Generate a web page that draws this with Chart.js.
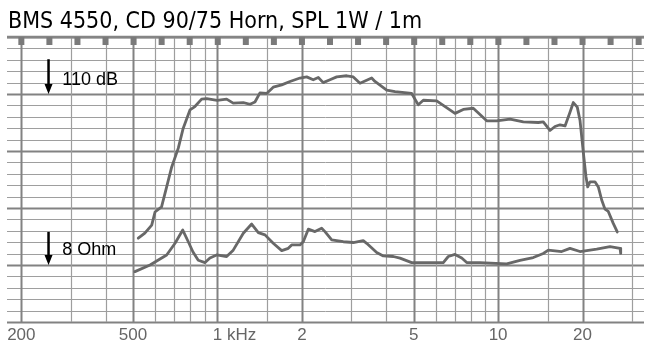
<!DOCTYPE html>
<html>
<head>
<meta charset="utf-8">
<script src="https://cdn.jsdelivr.net/npm/chart.js@4.4.1/dist/chart.umd.min.js"></script>
<style>
  html, body { margin: 0; padding: 0; background: #ffffff; }
  canvas { display: block; }
</style>
</head>
<body>
<canvas id="chart" width="652" height="347"></canvas>
<script>
const chartTitle = 'BMS 4550, CD 90/75 Horn, SPL 1W / 1m';

// SPL response (Hz, dB)
const splFreq = [522, 551, 583, 599, 632, 659, 687, 725, 755, 798, 831, 878, 915, 997, 1078, 1138, 1236, 1306, 1360, 1417, 1497, 1580, 1694, 1813, 1968, 2079, 2194, 2287, 2382, 2517, 2660, 2887, 3048, 3220, 3544, 3641, 4009, 4292, 4922, 5195, 5413, 6042, 7021, 7516, 8156, 9108, 9885, 11030, 12300, 13910, 14490, 15310, 15950, 16620, 17320, 18040, 18540, 19150, 19580, 20120, 20570, 20860, 21260, 22140, 22760, 23400, 24040, 24700, 25730, 26590];
const splDb = [84.7, 85.6, 87.0, 89.3, 90.2, 93.7, 97.2, 100.5, 104.0, 107.2, 107.8, 109.1, 109.2, 108.9, 109.1, 108.4, 108.5, 108.2, 108.6, 110.2, 110.1, 111.2, 111.6, 112.2, 112.8, 113.0, 112.5, 112.9, 112.0, 112.5, 113.0, 113.2, 113.0, 111.9, 112.8, 112.2, 110.7, 110.4, 110.1, 108.1, 108.9, 108.8, 106.6, 107.3, 107.5, 105.3, 105.3, 105.6, 105.1, 105.0, 105.1, 103.6, 104.3, 104.6, 104.4, 106.8, 108.5, 107.7, 105.4, 99.8, 95.5, 93.7, 94.6, 94.6, 93.7, 91.4, 89.8, 89.4, 87.3, 85.8];

// impedance (Hz, Ohm)
const zFreq = [508, 575, 659, 706, 752, 787, 818, 854, 903, 940, 993, 1078, 1138, 1236, 1324, 1398, 1477, 1580, 1694, 1788, 1838, 1968, 2022, 2107, 2226, 2351, 2416, 2553, 2807, 3048, 3307, 3401, 3693, 3898, 4232, 4471, 4922, 6378, 6645, 7021, 7420, 7731, 8620, 10730, 11970, 13350, 14490, 15100, 16850, 18040, 19580, 22460, 25050, 27200, 27350];
const zOhm = [7.0, 8.0, 9.8, 12.4, 16.2, 12.8, 10.4, 8.8, 8.4, 9.2, 9.8, 9.5, 10.8, 15.2, 18.3, 15.4, 14.7, 12.4, 10.7, 11.2, 12.0, 12.0, 12.8, 16.5, 15.7, 16.8, 15.7, 13.3, 12.8, 12.6, 13.1, 12.4, 10.3, 9.6, 9.5, 9.2, 8.4, 8.4, 9.5, 9.9, 9.2, 8.4, 8.4, 8.2, 8.8, 9.3, 10.1, 10.8, 10.5, 11.2, 10.5, 11.0, 11.6, 11.2, 10.1];

// paper grid
const gridFreqs = [200, 300, 400, 500, 600, 700, 800, 900, 1000, 1500, 2000, 3000, 4000, 5000, 6000, 7000, 8000, 9000, 10000, 15000, 20000, 30000];
const majorFreqs = [200, 500, 1000, 2000, 5000, 10000, 20000];
const xTickValues = [200, 500, 1000, 2000, 5000, 10000, 20000];
const xTickLabels = ['200', '500', '1 kHz', '2', '5', '10', '20'];
const dbMin = 70, dbMax = 120, dbStep = 2;

// reference markers
const refSpl = 110;
const refOhm = 8;

const curveColor = '#686868';
const gridMinor = '#9e9e9e';
const gridMajor = '#828282';

const zAxisMin = refOhm * Math.pow(10, (dbMin - 80) / 20);
const zAxisMax = refOhm * Math.pow(10, (dbMax - 80) / 20);

const paperPlugin = {
    id: 'paper',
    beforeDatasetsDraw(chart) {
        const { ctx, chartArea: a, scales } = chart;
        const x = scales.x, y = scales.y;
        ctx.save();
        // horizontal lines
        for (let db = dbMin; db <= dbMax; db += dbStep) {
            const py = Math.round(y.getPixelForValue(db)) + 0.5;
            const major = db % 10 === 0;
            ctx.strokeStyle = major ? gridMajor : gridMinor;
            ctx.lineWidth = major ? 2 : 1;
            ctx.beginPath();
            ctx.moveTo(a.left, py);
            ctx.lineTo(a.right, py);
            ctx.stroke();
        }
        // vertical lines
        gridFreqs.forEach((f) => {
            const px = Math.round(x.getPixelForValue(f)) + 0.5;
            const major = majorFreqs.includes(f);
            ctx.strokeStyle = major ? gridMajor : gridMinor;
            ctx.lineWidth = major ? 2 : 1.2;
            ctx.beginPath();
            ctx.moveTo(px, a.top);
            ctx.lineTo(px, a.bottom);
            ctx.stroke();
        });
        // top edge with sprocket marks
        ctx.strokeStyle = '#858585';
        ctx.lineWidth = 2.5;
        ctx.beginPath();
        ctx.moveTo(a.left, a.top);
        ctx.lineTo(a.right, a.top);
        ctx.stroke();
        ctx.fillStyle = '#7a7a7a';
        for (let sx = x.getPixelForValue(200); sx < a.right; sx += 28.06) {
            ctx.fillRect(sx - 3, a.top, 6, 8);
        }
        ctx.restore();
    },
    afterDatasetsDraw(chart) {
        const { ctx, chartArea: a, scales } = chart;
        const x = scales.x, y = scales.y, yz = scales.yz;
        ctx.save();

        // title
        ctx.fillStyle = '#000000';
        ctx.font = "23px 'DejaVu Sans Condensed', 'DejaVu Sans', sans-serif";
        ctx.textBaseline = 'alphabetic';
        ctx.textAlign = 'left';
        ctx.fillText(chartTitle, 8, 28);

        // frequency labels
        ctx.fillStyle = '#666666';
        ctx.font = "17px 'Liberation Sans', Arial, sans-serif";
        xTickValues.forEach((f, i) => {
            const label = xTickLabels[i];
            const head = label.split(' ')[0];
            const px = x.getPixelForValue(f) - ctx.measureText(head).width / 2;
            ctx.fillText(label, px, a.bottom + 17.5);
        });

        // reference arrows
        const arrowX = x.getPixelForValue(250);
        const textX = x.getPixelForValue(280);
        const drawArrow = (tipY, topY) => {
            ctx.strokeStyle = '#000000';
            ctx.fillStyle = '#000000';
            ctx.lineWidth = 2.5;
            ctx.beginPath();
            ctx.moveTo(arrowX, topY);
            ctx.lineTo(arrowX, tipY - 8);
            ctx.stroke();
            ctx.beginPath();
            ctx.moveTo(arrowX - 4, tipY - 10);
            ctx.lineTo(arrowX + 4, tipY - 10);
            ctx.lineTo(arrowX, tipY);
            ctx.closePath();
            ctx.fill();
        };
        const splTip = y.getPixelForValue(refSpl);
        drawArrow(splTip, y.getPixelForValue(refSpl + 6.1));
        const zTip = yz.getPixelForValue(refOhm);
        drawArrow(zTip, y.getPixelForValue(85.8));

        ctx.fillStyle = '#000000';
        ctx.font = "18px 'Liberation Sans', Arial, sans-serif";
        ctx.fillText(refSpl + ' dB', textX, y.getPixelForValue(refSpl + 1.6));
        ctx.fillText(refOhm + ' Ohm', textX, y.getPixelForValue(81.7));
        ctx.restore();
    }
};

const lineStyle = {
    borderColor: curveColor,
    borderWidth: 2.8,
    borderJoinStyle: 'round',
    borderCapStyle: 'round',
    pointRadius: 0,
    tension: 0,
    fill: false,
};

new Chart(document.getElementById('chart'), {
    type: 'line',
    data: {
        datasets: [
            {
                label: 'SPL',
                data: splFreq.map((f, i) => ({ x: f, y: splDb[i] })),
                yAxisID: 'y',
                ...lineStyle,
            },
            {
                label: 'Impedance',
                data: zFreq.map((f, i) => ({ x: f, y: zOhm[i] })),
                yAxisID: 'yz',
                ...lineStyle,
            },
        ],
    },
    options: {
        responsive: false,
        animation: false,
        events: [],
        layout: { padding: { left: 7, right: 8, top: 37, bottom: 25 } },
        plugins: {
            legend: { display: false },
            tooltip: { enabled: false },
        },
        scales: {
            x: { type: 'logarithmic', display: false, min: 177.8, max: 33110 },
            y: { type: 'linear', display: false, min: dbMin, max: dbMax },
            yz: { type: 'logarithmic', display: false, min: zAxisMin, max: zAxisMax },
        },
    },
    plugins: [paperPlugin],
});
</script>
</body>
</html>
